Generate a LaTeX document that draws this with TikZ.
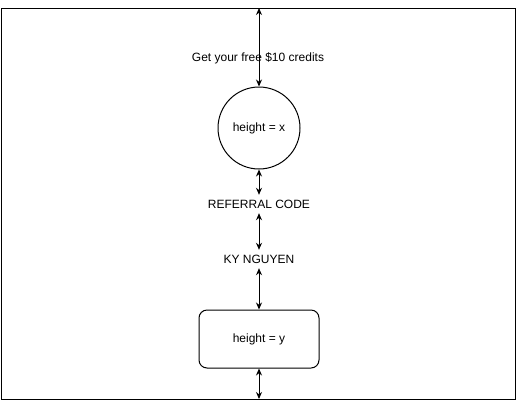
\documentclass[tikz,border=0pt]{standalone}
\usepackage{fontspec}
\setmainfont{Liberation Sans}
\usetikzlibrary{arrows.meta, positioning}

\begin{document}
\begin{tikzpicture}[>={Stealth[length=7pt, width=6pt]}, x=1pt, y=-1pt,
    lbl/.style={font=\fontsize{12}{14}\selectfont, inner sep=0pt, minimum height=18pt},
    shp/.style={draw, line width=1pt, font=\fontsize{12}{14}\selectfont},
    link/.style={<->, line width=1pt}]

\useasboundingbox (0,0) rectangle (516,408);

\def\xmid{259}

% ============================================================
% FRAME
% ============================================================

\draw[line width=1pt] (1,8) rectangle (515,399);
\coordinate (frametop) at (\xmid, 8);
\coordinate (framebot) at (\xmid, 399);

% ============================================================
% NODES
% ============================================================

\node[lbl] (credits) at (258, 58) {Get your free \$10 credits};

\node[shp, circle, minimum size=82pt] (hx) at (\xmid, 128) {height = x};

\node[lbl] (referral) at (\xmid, 204) {REFERRAL CODE};
\node[lbl] (name)     at (\xmid, 259) {KY NGUYEN};

\node[shp, rounded corners=8pt, minimum width=120pt, minimum height=58pt]
    (hy) at (\xmid, 339) {height = y};

% ============================================================
% LINKS
% ============================================================

\draw[link] (frametop) -- (hx.north);
\draw[link] (hx.south) -- (referral.north);
\draw[link] (referral.south) -- (name.north);
\draw[link] (name.south) -- (hy.north);
\draw[link] (hy.south) -- (framebot);

\end{tikzpicture}
\end{document}
